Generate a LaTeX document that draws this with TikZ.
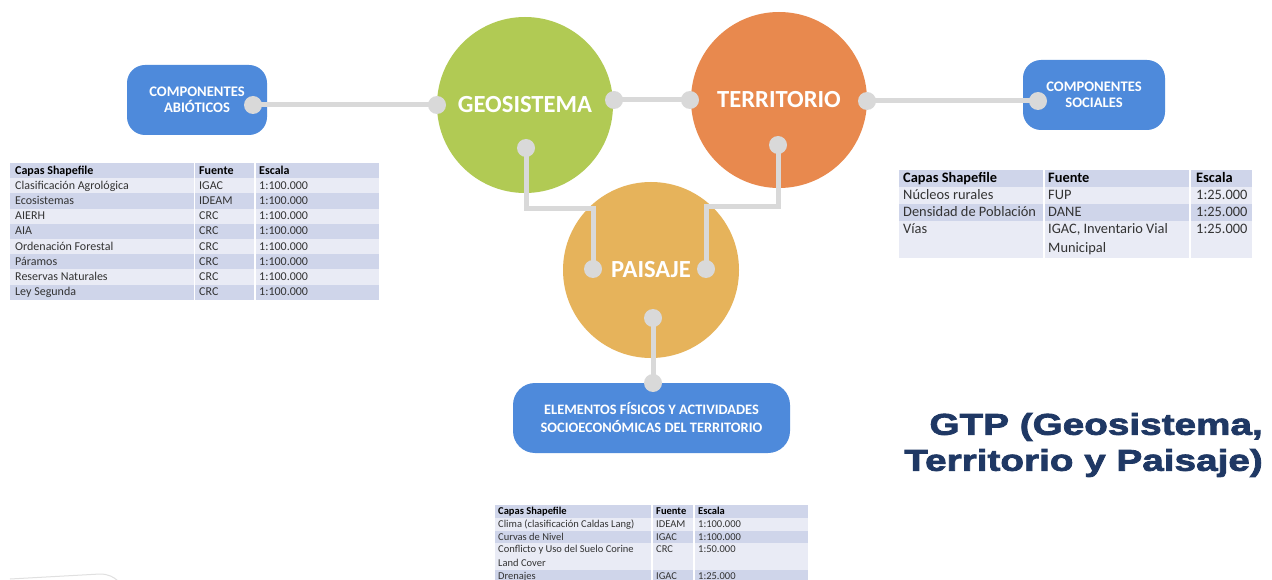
\documentclass[tikz,border=0pt]{standalone}
\usepackage{fontspec}
\setmainfont{Carlito}
\newfontfamily\titlefont{Liberation Sans}[FakeStretch=1.29,BoldFeatures={FakeBold=2.6}]
\definecolor{geo}{HTML}{B1CA54}
\definecolor{ter}{HTML}{E8894E}
\definecolor{pai}{HTML}{E6B35B}
\definecolor{boxblue}{HTML}{4E8ADB}
\definecolor{dotgray}{HTML}{D9D9D9}
\definecolor{titleblue}{HTML}{1F3864}
\definecolor{bandD}{HTML}{CFD5EA}
\definecolor{bandL}{HTML}{E9EBF5}
\definecolor{tabtext}{HTML}{333333}
% table row: name, ytop, height, colour, header style, col a, col b, col c
\newcommand\tabrow[8]{%
  \fill[#4] (\tXl,#2) rectangle (\tXr,#2+#3);
  \node[tcell] (#1a) at (\tA,#2+\tOff) {#5#6};
  \node[tcell] (#1b) at (\tBb,#2+\tOff) {#5#7};
  \node[tcell] (#1c) at (\tC,#2+\tOff) {#5#8};
}
\begin{document}
\begin{tikzpicture}[x=1pt,y=-1pt,
  bubble/.style={circle, minimum size=176pt, inner sep=0, text=white, font=\bfseries\fontsize{24.6}{28}\selectfont},
  bluebox/.style={rectangle, rounded corners=18pt, fill=boxblue, text=white, align=center, inner sep=0, font=\bfseries\fontsize{14.6}{16.5}\selectfont},
  dot/.style={circle, fill=dotgray, minimum size=18pt, inner sep=0},
  link/.style={draw=dotgray, line width=5pt},
  colsep/.style={draw=white, line width=1.5pt}]
\useasboundingbox (0,0) rectangle (1272,580);
\fill[white] (0,0) rectangle (1272,580);

% circles
\node[bubble, fill=geo] (geo) at (525,105) {GEOSISTEMA};
\node[bubble, fill=ter] (ter) at (779,100) {TERRITORIO};
\node[bubble, fill=pai] (pai) at (651,270) {PAISAJE};

% boxes
\node[bluebox, minimum width=140pt, minimum height=70pt] (abio) at (197,100) {COMPONENTES\\ABIÓTICOS};
\node[bluebox, minimum width=142pt, minimum height=70pt] (soc) at (1094,95) {COMPONENTES\\SOCIALES};
\node[bluebox, minimum width=277pt, minimum height=70pt, rounded corners=22pt, font=\bfseries\fontsize{14.4}{18}\selectfont] (elem) at (651.5,418) {ELEMENTOS FÍSICOS Y ACTIVIDADES\\SOCIOECONÓMICAS DEL TERRITORIO};

% connector points
\coordinate (pA) at (253,105);
\coordinate (pG1) at (437,105);
\coordinate (pG2) at (614,100);
\coordinate (pT1) at (690,100);
\coordinate (pT2) at (867,101);
\coordinate (pS) at (1038,101);
\coordinate (pG3) at (526,148);
\coordinate (pT3) at (778,145);
\coordinate (pP1) at (593,269);
\coordinate (pP2) at (706,269);
\coordinate (pP3) at (653,318);
\coordinate (pE) at (653,383);
\coordinate (jG) at (526,209);
\coordinate (jT) at (778,207);

\draw[link] (pA) -- (pG1);
\draw[link] (pG2) -- (pT1);
\draw[link] (pT2) -- (pS);
\draw[link] (pG3) -- (jG) -| (pP1);
\draw[link] (pT3) -- (jT) -| (pP2);
\draw[link] (pP3) -- (pE);

\foreach \p in {pA,pG1,pG2,pT1,pT2,pS,pG3,pT3,pP1,pP2,pP3,pE}
  \node[dot] (d\p) at (\p) {};

% title
\node[anchor=east, align=right, inner sep=0, text=titleblue, font=\titlefont\bfseries\fontsize{30}{36}\selectfont] (title) at (1263,445) {GTP (Geosistema,\\Territorio y Paisaje)};

% left table
\begin{scope}[tcell/.style={anchor=base west, inner sep=0, align=left, text=tabtext, font=\fontsize{12}{15.2}\selectfont}]
\def\tXl{10}\def\tXr{379}\def\tA{15}\def\tBb{199}\def\tC{259}\def\tOff{11.2}
\tabrow{lh}{163}{15.2}{bandD}{\bfseries\color{black}}{Capas Shapefile}{Fuente}{Escala}
\tabrow{la}{178.2}{15.2}{bandL}{}{Clasificación Agrológica}{IGAC}{1:100.000}
\tabrow{lb}{193.4}{15.2}{bandD}{}{Ecosistemas}{IDEAM}{1:100.000}
\tabrow{lc}{208.6}{15.2}{bandL}{}{AIERH}{CRC}{1:100.000}
\tabrow{ld}{223.8}{15.2}{bandD}{}{AIA}{CRC}{1:100.000}
\tabrow{le}{239}{15.2}{bandL}{}{Ordenación Forestal}{CRC}{1:100.000}
\tabrow{lf}{254.2}{15.2}{bandD}{}{Páramos}{CRC}{1:100.000}
\tabrow{lg}{269.4}{15.2}{bandL}{}{Reservas Naturales}{CRC}{1:100.000}
\tabrow{li}{284.6}{15.2}{bandD}{}{Ley Segunda}{CRC}{1:100.000}
\draw[colsep] (194.5,163) -- (194.5,299.8);
\draw[colsep] (255,163) -- (255,299.8);
\end{scope}

% right table
\begin{scope}[tcell/.style={anchor=base west, inner sep=0, align=left, text=tabtext, font=\fontsize{14.4}{18}\selectfont}]
\def\tXl{899}\def\tXr{1252}\def\tA{903}\def\tBb{1048}\def\tC{1196}\def\tOff{13}
\tabrow{rh}{170}{17}{bandD}{\bfseries\color{black}}{Capas Shapefile}{Fuente}{Escala}
\tabrow{ra}{187}{17}{bandL}{}{Núcleos rurales}{FUP}{1:25.000}
\tabrow{rb}{204}{17}{bandD}{}{Densidad de Población}{DANE}{1:25.000}
\fill[bandL] (899,221) rectangle (1252,258);
\node[tcell] (rca) at (903,234) {Vías};
\node[tcell] (rcb) at (1048,252) {IGAC, Inventario Vial\\Municipal};
\node[tcell] (rcc) at (1196,234) {1:25.000};
\draw[colsep] (1044,170) -- (1044,258);
\draw[colsep] (1190,170) -- (1190,258);
\end{scope}

% bottom table
\begin{scope}[tcell/.style={anchor=base west, inner sep=0, align=left, text=tabtext, font=\fontsize{10.5}{13.5}\selectfont}]
\def\tXl{495}\def\tXr{808}\def\tA{498}\def\tBb{656}\def\tC{698}\def\tOff{9.8}
\tabrow{bh}{505}{12.5}{bandD}{\bfseries\color{black}}{Capas Shapefile}{Fuente}{Escala}
\tabrow{ba}{517.5}{13}{bandL}{}{Clima (clasificación Caldas Lang)}{IDEAM}{1:100.000}
\tabrow{bb}{530.5}{12.5}{bandD}{}{Curvas de Nivel}{IGAC}{1:100.000}
\fill[bandL] (495,543) rectangle (808,570);
\node[tcell] (bca) at (498,566.3) {Conflicto y Uso del Suelo Corine\\Land Cover};
\node[tcell] (bcb) at (656,552.8) {CRC};
\node[tcell] (bcc) at (698,552.8) {1:50.000};
\tabrow{bd}{570}{10}{bandD}{}{Drenajes}{IGAC}{1:25.000}
\draw[colsep] (652,505) -- (652,580);
\draw[colsep] (694,505) -- (694,580);
\end{scope}

% faint stroke at bottom left
\draw[black!12, line width=1pt] (10,579) -- (100,574) .. controls (108,574) and (114,577) .. (118,581);
\end{tikzpicture}
\end{document}
